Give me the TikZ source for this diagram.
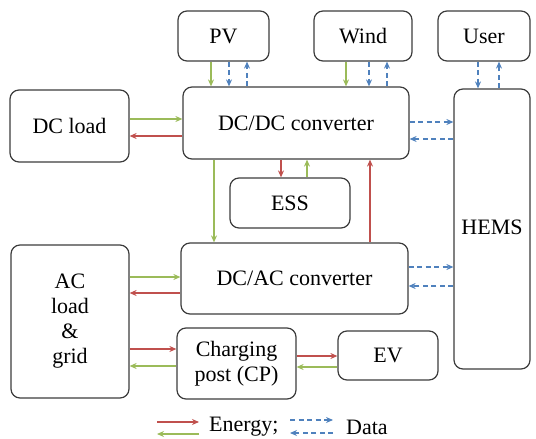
\documentclass[tikz,border=0pt]{standalone}
\usepackage{fontspec}
\setmainfont{Liberation Serif}
\usetikzlibrary{arrows.meta}
\definecolor{enred}{HTML}{C0504D}
\definecolor{engreen}{HTML}{9BBB59}
\definecolor{datblue}{HTML}{4F81BD}
\definecolor{boxgray}{HTML}{3C3C3C}
\begin{document}
\begin{tikzpicture}[x=1pt,y=-1pt,
    font=\fontsize{22}{25}\selectfont,
    blk/.style={draw=boxgray,line width=1.2pt,rounded corners=9pt,inner sep=0pt,align=center},
    arr/.style={line width=1.1pt,-{Stealth[length=7pt,width=6pt]}},
    ered/.style={arr,draw=enred},
    egrn/.style={arr,draw=engreen},
    dat/.style={arr,draw=datblue,dash pattern=on 5pt off 3.5pt}]
    \useasboundingbox (0,0) rectangle (536,439);

    \node[blk,minimum width=91pt,minimum height=50pt] (pv) at (223.5,36) {PV};
    \node[blk,minimum width=98pt,minimum height=50pt] (wind) at (363,36) {Wind};
    \node[blk,minimum width=92pt,minimum height=50pt] (user) at (484,36) {User};
    \node[blk,minimum width=226pt,minimum height=72pt] (dcdc) at (296,123) {DC/DC converter};
    \node[blk,minimum width=119pt,minimum height=72pt] (dcload) at (69.5,126) {DC load};
    \node[blk,minimum width=120pt,minimum height=50pt] (ess) at (290,203) {ESS};
    \node[blk,minimum width=76pt,minimum height=280pt] (hems) at (492,229) {\raisebox{3pt}{HEMS}};
    \node[blk,minimum width=227pt,minimum height=71pt] (dcac) at (294.5,278.5) {DC/AC converter};
    \node[blk,minimum width=118pt,minimum height=153pt] (acgrid) at (70,321.5) {AC\\load\\\&\\grid};
    \node[blk,minimum width=119pt,minimum height=71pt] (cp) at (236.5,363.5) {Charging\\post (CP)};
    \node[blk,minimum width=100pt,minimum height=49pt] (ev) at (388,355.5) {EV};

    \draw[egrn] ([xshift=-12.5pt]pv.south) -- ([xshift=-85pt]dcdc.north);
    \draw[dat] ([xshift=5.5pt]pv.south) -- ([xshift=-67pt]dcdc.north);
    \draw[dat] ([xshift=-49pt]dcdc.north) -- ([xshift=23.5pt]pv.south);
    \draw[egrn] ([xshift=-17pt]wind.south) -- ([xshift=50pt]dcdc.north);
    \draw[dat] ([xshift=6pt]wind.south) -- ([xshift=73pt]dcdc.north);
    \draw[dat] ([xshift=91pt]dcdc.north) -- ([xshift=24pt]wind.south);
    \draw[dat] ([xshift=-6pt]user.south) -- ([xshift=-14pt]hems.north);
    \draw[dat] ([xshift=7pt]hems.north) -- ([xshift=15pt]user.south);

    \draw[egrn] ([yshift=7pt]dcload.east) -- ([yshift=4pt]dcdc.west);
    \draw[ered] ([yshift=-13pt]dcdc.west) -- ([yshift=-10pt]dcload.east);
    \draw[egrn] ([xshift=-82pt]dcdc.south) -- ([xshift=-80.5pt]dcac.north);
    \draw[ered] ([xshift=-15pt]dcdc.south) -- ([xshift=-9pt]ess.north);
    \draw[egrn] ([xshift=17pt]ess.north) -- ([xshift=11pt]dcdc.south);
    \draw[ered] ([xshift=75.5pt]dcac.north) -- ([xshift=74pt]dcdc.south);
    \draw[dat] ([yshift=1pt]dcdc.east) -- ([yshift=107pt]hems.west);
    \draw[dat] ([yshift=90pt]hems.west) -- ([yshift=-16pt]dcdc.east);
    \draw[dat] ([yshift=11.5pt]dcac.east) -- ([yshift=-38pt]hems.west);
    \draw[dat] ([yshift=-57pt]hems.west) -- ([yshift=-7.5pt]dcac.east);

    \draw[egrn] ([yshift=44.5pt]acgrid.east) -- ([yshift=1.5pt]dcac.west);
    \draw[ered] ([yshift=-14.5pt]dcac.west) -- ([yshift=28.5pt]acgrid.east);
    \draw[ered] ([yshift=-27.5pt]acgrid.east) -- ([yshift=14.5pt]cp.west);
    \draw[egrn] ([yshift=-2.5pt]cp.west) -- ([yshift=-44.5pt]acgrid.east);
    \draw[ered] ([yshift=7.5pt]cp.east) -- ([yshift=-0.5pt]ev.west);
    \draw[egrn] ([yshift=-11.5pt]ev.west) -- ([yshift=-3.5pt]cp.east);

    \node[anchor=west,inner sep=0pt] (lgenergy) at (209,427) {Energy;};
    \node[anchor=west,inner sep=0pt] (lgdata) at (346,427) {Data};
    \coordinate (er1) at (157,422);
    \coordinate (er2) at (199,422);
    \coordinate (eg1) at (157,434);
    \coordinate (eg2) at (199,434);
    \coordinate (db1) at (290,420);
    \coordinate (db2) at (333,420);
    \coordinate (dc1) at (290,433);
    \coordinate (dc2) at (333,433);
    \draw[ered] (er1) -- (er2);
    \draw[egrn] (eg2) -- (eg1);
    \draw[dat] (db1) -- (db2);
    \draw[dat] (dc2) -- (dc1);
\end{tikzpicture}
\end{document}
